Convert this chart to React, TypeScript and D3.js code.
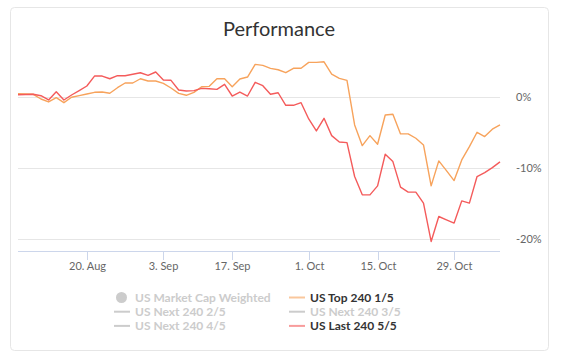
import React from "react";
import * as d3 from "d3";

// trading days shown on the ordinal x axis
const dates: string[] = [
  "2018-08-07", "2018-08-08", "2018-08-09", "2018-08-10", "2018-08-13", "2018-08-14",
  "2018-08-15", "2018-08-16", "2018-08-17", "2018-08-20", "2018-08-21", "2018-08-22",
  "2018-08-23", "2018-08-24", "2018-08-27", "2018-08-28", "2018-08-29", "2018-08-30",
  "2018-08-31", "2018-09-04", "2018-09-05", "2018-09-06", "2018-09-07", "2018-09-10",
  "2018-09-11", "2018-09-12", "2018-09-13", "2018-09-14", "2018-09-17", "2018-09-18",
  "2018-09-19", "2018-09-20", "2018-09-21", "2018-09-24", "2018-09-25", "2018-09-26",
  "2018-09-27", "2018-09-28", "2018-10-01", "2018-10-02", "2018-10-03", "2018-10-04",
  "2018-10-05", "2018-10-09", "2018-10-10", "2018-10-11", "2018-10-12", "2018-10-15",
  "2018-10-16", "2018-10-17", "2018-10-18", "2018-10-19", "2018-10-22", "2018-10-23",
  "2018-10-24", "2018-10-25", "2018-10-26", "2018-10-29", "2018-10-30", "2018-10-31",
  "2018-11-01", "2018-11-02", "2018-11-05", "2018-11-06",
];

// US Top 240 1/5 (%)
const top240: number[] = [
  0.46, 0.42, 0.38, -0.28, -0.7, -0.1, -0.8, -0.04, 0.2, 0.42,
  0.66, 0.7, 0.52, 1.31, 1.97, 1.97, 2.57, 2.25, 2.25, 1.93,
  1.27, 0.52, 0.24, 0.66, 1.45, 1.5, 2.57, 2.57, 1.45, 2.53,
  2.81, 4.6, 4.46, 4.04, 3.84, 3.42, 4.04, 4.04, 4.88, 4.88,
  4.96, 3.23, 2.63, 2.35, -3.94, -6.85, -5.44, -6.65, -2.53, -2.43,
  -5.2, -5.2, -5.81, -6.75, -12.52, -9.0, -10.37, -11.77, -8.86, -6.99,
  -4.97, -5.58, -4.54, -3.94,
];

// US Last 240 5/5 (%)
const last240: number[] = [
  0.32, 0.35, 0.38, 0.18, -0.42, 0.75, -0.42, 0.28, 0.9, 1.55,
  2.95, 2.95, 2.57, 3.0, 3.0, 3.2, 3.42, 3.05, 3.52, 2.39,
  2.35, 0.98, 0.84, 0.9, 1.22, 1.17, 1.08, 1.79, 0.14, 0.7,
  0.14, 2.07, 1.59, 0.38, 0.6, -1.17, -1.17, -0.8, -3.09, -4.78,
  -3.0, -5.44, -6.33, -6.43, -11.2, -13.78, -13.78, -12.52, -8.06, -9.1,
  -12.7, -13.4, -13.4, -14.95, -20.35, -16.83, -17.3, -17.76, -14.63, -14.95,
  -11.2, -10.65, -9.94, -9.14,
];

const xTickDates = ["2018-08-20", "2018-09-04", "2018-09-17", "2018-10-01", "2018-10-15", "2018-10-29"];
const xTickLabels = ["20. Aug", "3. Sep", "17. Sep", "1. Oct", "15. Oct", "29. Oct"];
const yTicks = [0, -10, -20];

const legendItems = [
  { name: "US Market Cap Weighted", color: "#7cb5ec", visible: false, symbol: "circle" },
  { name: "US Top 240 1/5", color: "#f7a35c", visible: true, symbol: "line" },
  { name: "US Next 240 2/5", color: "#90ed7d", visible: false, symbol: "line" },
  { name: "US Next 240 3/5", color: "#8085e9", visible: false, symbol: "line" },
  { name: "US Next 240 4/5", color: "#e4d354", visible: false, symbol: "line" },
  { name: "US Last 240 5/5", color: "#f45b5b", visible: true, symbol: "line" },
];

const font = "Lato, 'Open Sans', sans-serif";

const App: React.FC = () => {
  const width = 563;
  const height = 360;

  const plot = { left: 18, right: 500, top: 55, bottom: 251 };

  const x = d3.scalePoint<string>().domain(dates).range([plot.left, plot.right]);
  const y = d3.scaleLinear().domain([-20, 0]).range([239, 97]);

  const line = d3
    .line<number>()
    .x((_, i) => x(dates[i]) as number)
    .y((d) => y(d));

  return (
    <svg
      width={width}
      height={height}
      style={{ position: "absolute", left: 0, top: 0, fontFamily: font }}
    >
      <rect x={0} y={0} width={width} height={height} fill="#fff" />
      <rect x={10.5} y={7.5} width={538} height={343} rx={4} fill="#fff" stroke="#e6e6e6" />

      <text x={279} y={36} textAnchor="middle" fontSize={20} fill="#333">
        Performance
      </text>

      {/* grid + y labels */}
      {yTicks.map((t) => (
        <g key={t}>
          <line x1={plot.left} x2={plot.right} y1={y(t) + 0.5} y2={y(t) + 0.5} stroke="#e6e6e6" />
          <text x={516} y={y(t)} dy="0.35em" fontSize={11} fill="#666">
            {t + "%"}
          </text>
        </g>
      ))}

      {/* x axis */}
      <line x1={plot.left} x2={plot.right} y1={plot.bottom + 0.5} y2={plot.bottom + 0.5} stroke="#ccd6eb" />
      {xTickDates.map((d, i) => {
        const px = Math.round(x(d) as number) + 0.5;
        return (
          <g key={d}>
            <line x1={px} x2={px} y1={plot.bottom} y2={plot.bottom + 9} stroke="#ccd6eb" />
            <text x={px} y={266} dy="0.35em" textAnchor="middle" fontSize={11} fill="#666">
              {xTickLabels[i]}
            </text>
          </g>
        );
      })}

      {/* series */}
      <path d={line(top240) ?? ""} fill="none" stroke="#f7a35c" strokeWidth={1.4} strokeLinejoin="round" />
      <path d={line(last240) ?? ""} fill="none" stroke="#f45b5b" strokeWidth={1.4} strokeLinejoin="round" />

      {/* legend */}
      {legendItems.map((item, i) => {
        const col = i % 2;
        const row = Math.floor(i / 2);
        const lx = 114 + col * 175;
        const ly = 297.5 + row * 14.2;
        const c = item.visible ? item.color : "#cccccc";
        return (
          <g key={item.name}>
            {item.symbol === "circle" ? (
              <circle cx={lx + 7.5} cy={ly} r={5.5} fill={c} />
            ) : (
              <line x1={lx} x2={lx + 16} y1={ly} y2={ly} stroke={c} strokeWidth={2} opacity={item.visible ? 0.6 : 1} />
            )}
            <text
              x={lx + 21}
              y={ly}
              dy="0.35em"
              fontSize={12}
              fontWeight="bold"
              fill={item.visible ? "#333333" : "#cccccc"}
            >
              {item.name}
            </text>
          </g>
        );
      })}
    </svg>
  );
};

export default App;
